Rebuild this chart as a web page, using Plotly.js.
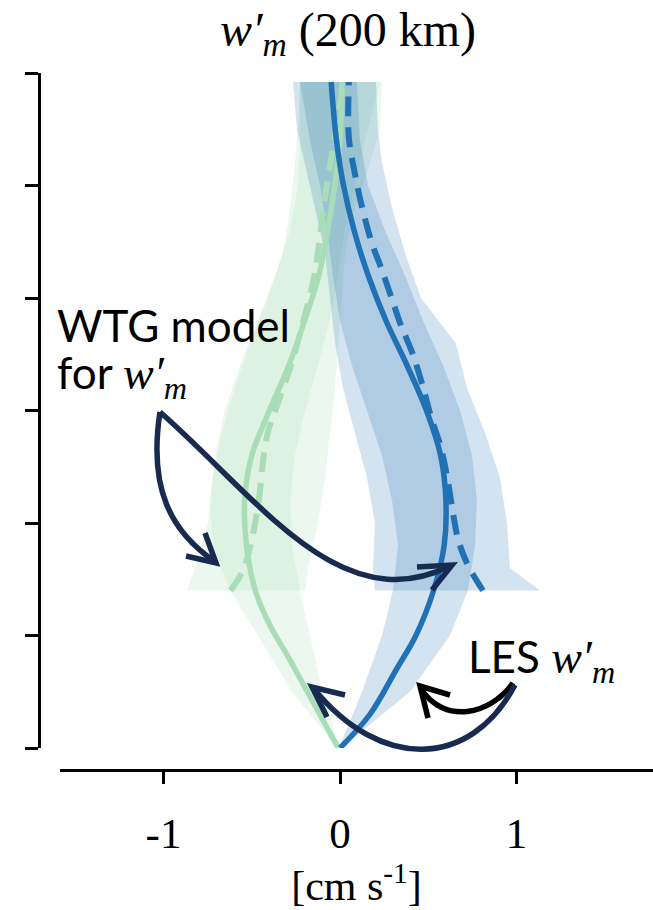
<!DOCTYPE html>
<html><head><meta charset="utf-8">
<script src="https://cdn.plot.ly/plotly-3.0.1.min.js"></script>
<style>html,body{margin:0;padding:0;background:#fff}#chart{width:653px;height:910px}</style>
</head><body><div id="chart"></div>
<script>
// ---------- data (height in plot units, w' in cm s^-1) ----------
const heightTicks = [0, 1, 2, 3, 4, 5, 6];
const xTickVals = [-1, 0, 1];
const xTickText = ['-1', '0', '1'];

// LES mean profiles (solid)
const lesBlueZ = [0, 0.3, 0.7, 1.0, 1.4, 1.8, 2.2, 2.6, 3.0, 3.4, 3.8, 4.2, 4.6, 5.0, 5.4, 5.92];
const lesBlueX = [0, 0.17, 0.32, 0.43, 0.53, 0.59, 0.60, 0.57, 0.49, 0.38, 0.26, 0.16, 0.08, 0.02, -0.02, -0.05];
const lesGreenZ = [0, 0.4, 0.8, 1.1, 1.4, 1.8, 2.2, 2.6, 3.0, 3.4, 3.8, 4.2, 4.6, 5.0, 5.4, 5.92];
const lesGreenX = [-0.01, -0.15, -0.29, -0.40, -0.48, -0.53, -0.54, -0.50, -0.40, -0.29, -0.20, -0.12, -0.07, -0.03, 0.0, 0.01];

// WTG model profiles (dashed)
const wtgBlueZ = [1.40, 1.64, 1.85, 2.09, 2.38, 2.68, 2.92, 3.21, 3.51, 3.78, 4.01, 4.28, 4.49, 4.84, 5.14, 5.43, 5.92];
const wtgBlueX = [0.81, 0.72, 0.67, 0.64, 0.61, 0.57, 0.52, 0.47, 0.41, 0.34, 0.29, 0.23, 0.18, 0.12, 0.08, 0.05, 0.05];
const wtgGreenZ = [1.40, 1.58, 1.85, 2.20, 2.50, 2.80, 3.03, 3.39, 3.78, 4.16, 4.47, 4.84, 5.14, 5.43, 5.92];
const wtgGreenX = [-0.62, -0.55, -0.50, -0.46, -0.44, -0.41, -0.36, -0.28, -0.21, -0.15, -0.12, -0.09, -0.06, -0.03, 0.02];

// LES spread bands
const lesBandZ = [0, 0.5, 1.0, 1.4, 1.8, 2.2, 2.6, 3.0, 3.4, 3.8, 4.2, 4.6, 5.0, 5.4, 5.92];
const lesBlueLo = [-0.006, 0.125, 0.238, 0.30, 0.329, 0.295, 0.238, 0.153, 0.068, 0.0, -0.04, -0.074, -0.113, -0.17, -0.227];
const lesBlueHi = [0.006, 0.397, 0.623, 0.725, 0.765, 0.776, 0.748, 0.68, 0.584, 0.47, 0.368, 0.255, 0.159, 0.113, 0.096];
const lesGreenLo = [-0.017, -0.272, -0.465, -0.623, -0.72, -0.737, -0.708, -0.652, -0.567, -0.465, -0.368, -0.283, -0.238, -0.227, -0.227];
const lesGreenHi = [0, -0.102, -0.17, -0.227, -0.272, -0.283, -0.255, -0.198, -0.125, -0.057, -0.011, 0.028, 0.085, 0.142, 0.227];

// WTG model spread bands
const wtgBandZ = [1.4, 1.6, 2.0, 2.4, 2.8, 3.2, 3.6, 4.0, 4.4, 4.8, 5.2, 5.5, 5.92];
const wtgBlueLo = [0.198, 0.187, 0.198, 0.153, 0.085, 0.017, -0.028, -0.057, -0.085, -0.142, -0.198, -0.244, -0.266];
const wtgBlueHi = [1.133, 0.963, 0.946, 0.907, 0.822, 0.72, 0.655, 0.459, 0.368, 0.295, 0.238, 0.215, 0.204];
const wtgGreenLo = [-0.867, -0.822, -0.748, -0.72, -0.669, -0.595, -0.51, -0.408, -0.323, -0.283, -0.255, -0.238, -0.227];
const wtgGreenHi = [-0.198, -0.181, -0.125, -0.085, -0.057, -0.028, -0.011, 0.011, 0.028, 0.085, 0.17, 0.227, 0.238];

// ---------- styling ----------
const BLUE = '#2171b5', GREEN = '#a8ddb5', NAVY = '#172a4f';
const BLUE_FILL = 'rgba(33,113,181,0.2)', GREEN_FILL = 'rgba(168,221,181,0.22)';
const W = 653, H = 910;
const px = v => v / W, py = v => 1 - v / H;
const SERIF = 'Liberation Serif, Times New Roman, serif';
const SANS = 'Lato, Open Sans, sans-serif';

function band(z, lo, hi, color) {
  return {
    x: lo.concat(hi.slice().reverse()),
    y: z.concat(z.slice().reverse()),
    type: 'scatter', mode: 'lines', fill: 'toself', fillcolor: color,
    line: {width: 0}, hoverinfo: 'skip', showlegend: false
  };
}
function line(z, x, color, dash, width) {
  return {x: x, y: z, type: 'scatter', mode: 'lines',
    line: {color: color, width: width, dash: dash, shape: 'spline', smoothing: 1},
    hoverinfo: 'skip', showlegend: false};
}

const traces = [
  band(lesBandZ, lesGreenLo, lesGreenHi, GREEN_FILL),
  band(wtgBandZ, wtgGreenLo, wtgGreenHi, GREEN_FILL),
  band(lesBandZ, lesBlueLo, lesBlueHi, BLUE_FILL),
  band(wtgBandZ, wtgBlueLo, wtgBlueHi, BLUE_FILL),
  line(lesGreenZ, lesGreenX, GREEN, 'solid', 5.5),
  line(wtgGreenZ, wtgGreenX, GREEN, '20px,11px', 6),
  line(lesBlueZ, lesBlueX, BLUE, 'solid', 5.5),
  line(wtgBlueZ, wtgBlueX, BLUE, '20px,11px', 6)
];

// annotation arrows (paper coordinates from pixel positions)
function P(x, y) { return px(x).toFixed(5) + ',' + py(y).toFixed(5); }
function pathShape(d, color) {
  return {type: 'path', xref: 'paper', yref: 'paper', path: d,
    line: {color: color, width: 5.5}, fillcolor: 'rgba(0,0,0,0)', layer: 'above'};
}
const shapes = [
  pathShape('M' + P(160,412) + ' C' + P(148,490) + ' ' + P(172,532) + ' ' + P(214,561), NAVY),
  pathShape('M' + P(186,556) + ' L' + P(216,563) + ' L' + P(205,533), NAVY),
  pathShape('M' + P(160,412) + ' C' + P(260,500) + ' ' + P(340,620) + ' ' + P(450,566), NAVY),
  pathShape('M' + P(417,567) + ' L' + P(452,565) + ' L' + P(432,590), NAVY),
  pathShape('M' + P(513,683) + ' C' + P(490,715) + ' ' + P(445,725) + ' ' + P(421,689), '#000'),
  pathShape('M' + P(450,695) + ' L' + P(420,686) + ' L' + P(428,718), '#000'),
  pathShape('M' + P(515,685) + ' C' + P(470,770) + ' ' + P(380,770) + ' ' + P(314,689), NAVY),
  pathShape('M' + P(345,695) + ' L' + P(312,687) + ' L' + P(327,717), NAVY)
];

const wm = '<span style="font-family:' + SERIF + ';font-size:46px"><i>w′</i><sub><i>m</i></sub></span>';
const annotations = [
  {xref: 'paper', yref: 'paper', x: px(55), y: py(325), xanchor: 'left', yanchor: 'middle',
   text: 'WTG model', showarrow: false, font: {family: SANS, size: 44, color: '#000'}},
  {xref: 'paper', yref: 'paper', x: px(55), y: py(376), xanchor: 'left', yanchor: 'middle',
   text: 'for ' + wm, showarrow: false, font: {family: SANS, size: 44, color: '#000'}},
  {xref: 'paper', yref: 'paper', x: px(466), y: py(660), xanchor: 'left', yanchor: 'middle',
   text: 'LES ' + wm, showarrow: false, font: {family: SANS, size: 44, color: '#000'}}
];

const layout = {
  width: W, height: H,
  margin: {l: 0, r: 0, t: 0, b: 0, pad: 0},
  paper_bgcolor: '#fff', plot_bgcolor: 'rgba(0,0,0,0)',
  showlegend: false, hovermode: false,
  title: {text: '<i>w′</i><sub><i>m</i></sub> (200 km)', x: px(348), xref: 'paper', xanchor: 'center',
          y: py(29), yref: 'paper', yanchor: 'middle', font: {family: SERIF, size: 48, color: '#000'}},
  xaxis: {
    domain: [px(60), 1], anchor: 'free', position: py(770),
    range: [(60 - 340) / 176.5, (653 - 340) / 176.5],
    showgrid: false, zeroline: false, showline: true, linecolor: '#000', linewidth: 3,
    ticks: 'outside', ticklen: 12, tickwidth: 3, tickcolor: '#000',
    tickvals: xTickVals, ticktext: xTickText, ticklabelstandoff: 12,
    tickfont: {family: SERIF, size: 43, color: '#000'},
    title: {text: '[cm s<sup>-1</sup>]', font: {family: SERIF, size: 42, color: '#000'}, standoff: 2}
  },
  yaxis: {
    domain: [py(748), py(73)], anchor: 'free', position: px(39),
    range: [0, 6], showgrid: false, zeroline: false,
    showline: true, linecolor: '#000', linewidth: 3,
    ticks: 'outside', ticklen: 13, tickwidth: 3, tickcolor: '#000',
    tickvals: heightTicks, showticklabels: false
  },
  shapes: shapes,
  annotations: annotations
};

Plotly.newPlot('chart', traces, layout, {staticPlot: true, displayModeBar: false});
</script>
</body></html>
